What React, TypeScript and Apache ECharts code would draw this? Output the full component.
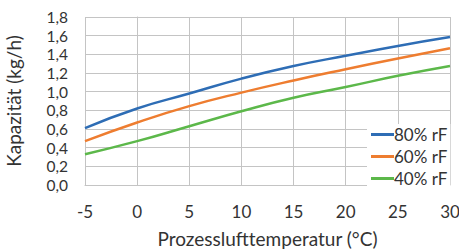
import React, { useEffect, useRef } from "react";
import * as echarts from "echarts";

const temps = [-5, 0, 5, 10, 15, 20, 25, 30];
const rf80 = [0.61, 0.82, 0.98, 1.14, 1.275, 1.385, 1.49, 1.585];
const rf60 = [0.47, 0.67, 0.845, 0.99, 1.12, 1.24, 1.355, 1.465];
const rf40 = [0.33, 0.47, 0.63, 0.79, 0.935, 1.05, 1.17, 1.275];
const seriesNames = ["80% rF", "60% rF", "40% rF"];
const colors = ["#2e6db5", "#ee7d30", "#5cb84a"];

export default function App() {
  const ref = useRef<HTMLDivElement>(null);
  useEffect(() => {
    const chart = echarts.init(ref.current!, null, { renderer: "svg" });
    const font = "Lato, 'Open Sans', sans-serif";
    const all = [rf80, rf60, rf40];
    chart.setOption({
      animation: false,
      textStyle: { fontFamily: font },
      grid: { left: 85, right: 9, top: 17, bottom: 67, containLabel: false, outerBoundsMode: "none" },
      legend: {
        orient: "vertical",
        left: 367,
        top: 124,
        backgroundColor: "#ffffff",
        padding: [2, 3, 2, 4],
        itemGap: 5,
        itemWidth: 23,
        itemHeight: 3,
        icon: "rect",
        textStyle: { fontSize: 17, color: "#333", fontFamily: font, padding: [0, 0, 0, -5], lineHeight: 14 },
        data: seriesNames,
      },
      xAxis: {
        type: "value",
        min: -5,
        max: 30,
        interval: 5,
        name: "Prozesslufttemperatur (°C)",
        nameLocation: "middle",
        nameGap: 44,
        nameTextStyle: { fontSize: 19, color: "#333", fontFamily: font, lineHeight: 19 },
        axisLine: { show: true, lineStyle: { color: "#c4c4c4" } },
        axisTick: { show: false },
        axisLabel: { fontSize: 17, color: "#333", margin: 18, fontFamily: font },
        splitLine: { show: true, lineStyle: { color: "#c4c4c4", width: 1 } },
      },
      yAxis: {
        type: "value",
        min: 0,
        max: 1.8,
        interval: 0.2,
        name: "Kapazität (kg/h)",
        nameLocation: "middle",
        nameGap: 62,
        nameTextStyle: { fontSize: 19, color: "#333", fontFamily: font },
        axisLine: { show: true, lineStyle: { color: "#c4c4c4" } },
        axisTick: { show: false },
        axisLabel: {
          fontSize: 15.5,
          color: "#333",
          margin: 17,
          lineHeight: 15,
          fontFamily: font,
          formatter: (v: number) => v.toFixed(1).replace(".", ","),
        },
        splitLine: { show: true, lineStyle: { color: "#c4c4c4", width: 1 } },
      },
      series: seriesNames.map((n, i) => ({
        name: n,
        type: "line",
        smooth: true,
        showSymbol: false,
        symbol: "none",
        lineStyle: { color: colors[i], width: 2.5 },
        itemStyle: { color: colors[i] },
        data: temps.map((t, j) => [t, all[i][j]]),
      })),
    });
    return () => chart.dispose();
  }, []);
  return <div ref={ref} style={{ width: 459, height: 252, position: "absolute", left: 0, top: 0 }} />;
}
